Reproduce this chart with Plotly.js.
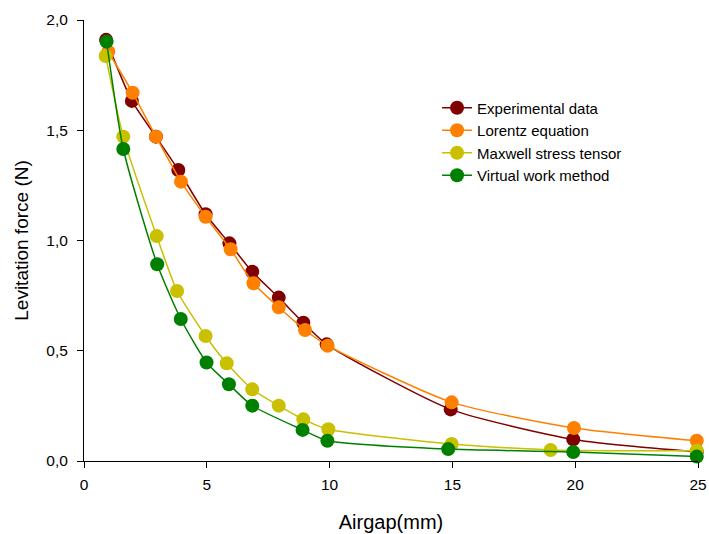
<!DOCTYPE html>
<html>
<head>
<meta charset="utf-8">
<script src="https://cdn.plot.ly/plotly-3.0.1.min.js"></script>
<style>html,body{margin:0;padding:0;background:#fff}#chart{width:709px;height:534px}</style>
</head>
<body>
<div id="chart"></div>
<script>
const seriesNames = ["Experimental data", "Lorentz equation", "Maxwell stress tensor", "Virtual work method"];
const seriesColors = ["#800000", "#ff8000", "#c8c000", "#008000"];

const expX = [0.9, 1.95, 2.93, 3.84, 4.95, 5.92, 6.85, 7.93, 8.93, 9.88, 14.93, 19.92, 24.95];
const expY = [1.91, 1.633, 1.471, 1.32, 1.119, 0.987, 0.858, 0.741, 0.627, 0.529, 0.234, 0.098, 0.042];

const lorX = [0.99, 1.98, 2.93, 3.95, 4.95, 5.97, 6.9, 7.93, 9.0, 9.92, 14.97, 19.95, 24.95];
const lorY = [1.856, 1.670, 1.471, 1.267, 1.108, 0.960, 0.806, 0.697, 0.594, 0.523, 0.266, 0.150, 0.092];

const maxX = [0.88, 1.6, 2.96, 3.79, 4.95, 5.81, 6.85, 7.93, 8.93, 9.95, 14.97, 19.0, 24.95];
const maxY = [1.837, 1.471, 1.020, 0.771, 0.567, 0.443, 0.325, 0.251, 0.189, 0.144, 0.077, 0.050, 0.047];

const vwX = [0.92, 1.6, 2.98, 3.94, 4.99, 5.9, 6.85, 8.9, 9.91, 14.83, 19.92, 24.95];
const vwY = [1.902, 1.415, 0.892, 0.644, 0.447, 0.348, 0.251, 0.141, 0.092, 0.054, 0.041, 0.020];

const xTicks = [0, 5, 10, 15, 20, 25];
const yTicks = [0, 0.5, 1.0, 1.5, 2.0];

const xs = [expX, lorX, maxX, vwX];
const ys = [expY, lorY, maxY, vwY];

const traces = seriesNames.map((n, i) => ({
  x: xs[i], y: ys[i], name: n, type: 'scatter', mode: 'lines+markers',
  line: {color: seriesColors[i], width: 1.5, shape: 'spline', smoothing: 0.6},
  marker: {color: seriesColors[i], size: 14, line: {width: 0}},
  cliponaxis: false
}));

const layout = {
  width: 709, height: 534,
  margin: {l: 84, r: 11, t: 20, b: 73},
  paper_bgcolor: '#fff', plot_bgcolor: '#fff',
  separators: ',.',
  font: {family: 'Liberation Sans, Arial, sans-serif', size: 15, color: '#000'},
  showlegend: true,
  legend: {x: 0.575, y: 0.838, xanchor: 'left', yanchor: 'top', bgcolor: 'rgba(0,0,0,0)',
           font: {size: 15, color: '#000'}, tracegroupgap: 0, itemwidth: 30},
  xaxis: {
    range: [0, 25], tickvals: xTicks, ticktext: xTicks.map(String),
    showgrid: false, zeroline: false, showline: true, linecolor: '#000', linewidth: 1,
    ticks: 'outside', ticklen: 6, tickcolor: '#000', tickwidth: 1,
    tickfont: {size: 15.5}, ticklabelstandoff: 3,
    title: {text: 'Airgap(mm)', font: {size: 20}, standoff: 23}
  },
  yaxis: {
    range: [0, 2], tickvals: yTicks, tickformat: '.1f',
    showgrid: false, zeroline: false, showline: true, linecolor: '#000', linewidth: 1,
    ticks: 'outside', ticklen: 6, tickcolor: '#000', tickwidth: 1,
    tickfont: {size: 15.5}, ticklabelstandoff: 6,
    title: {text: 'Levitation force (N)', font: {size: 19}, standoff: 12}
  }
};

Plotly.newPlot('chart', traces, layout, {displayModeBar: false, staticPlot: true});
</script>
</body>
</html>
